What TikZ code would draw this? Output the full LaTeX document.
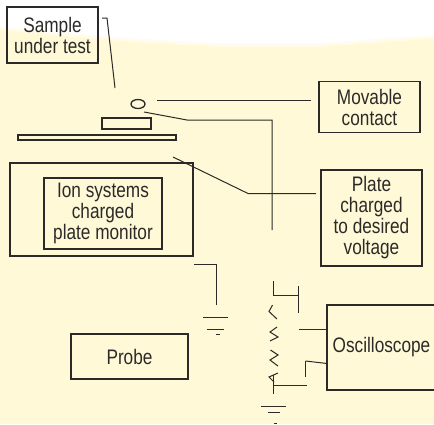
\documentclass[tikz,border=0pt]{standalone}
\usepackage{fontspec}
\setmainfont[FakeStretch=0.82]{Liberation Sans}
\definecolor{paleYellow}{HTML}{FFF9D8}
\definecolor{inkGray}{HTML}{2B2A28}
\begin{document}
\begin{tikzpicture}[
        x=1pt,
        y=-1pt,
        every node/.style={
            text=inkGray
        },
        labelBox/.style={
            rectangle,
            draw=inkGray,
            line width=1.4pt,
            inner sep=0pt,
            align=center,
            font=\fontsize{21}{21}\selectfont
        },
        wire/.style={
            draw=inkGray,
            line width=1pt
        },
        part/.style={
            draw=inkGray,
            line width=1.3pt
        }
    ]

        \useasboundingbox (0,0) rectangle (434,424);
        \clip (0,0) rectangle (434,424);

        \foreach \d/\o in {4/0.3,2/0.5,0/1} {
            \fill[paleYellow, opacity=\o, yshift=\d pt] (0,30) -- (60,36) -- (130,42) -- (217,47) -- (320,47) -- (400,41) -- (434,39) -- (434,424) -- (0,424) -- cycle;
        }

        \node[labelBox, minimum width=91pt, minimum height=56pt] (sample) at (52.5,35) {Sample\\under test};
        \node[labelBox, minimum width=101pt, minimum height=51pt] (movable) at (369.5,107) {Movable\\contact};
        \node[labelBox, minimum width=101pt, minimum height=96pt] (plate) at (371.5,218) {Plate\\charged\\to desired\\voltage};
        \node[labelBox, minimum width=183pt, minimum height=93pt] (monitorOuter) at (101.5,209.5) {};
        \node[labelBox, minimum width=118pt, minimum height=71pt] (monitor) at (103,213.5) {Ion systems\\charged\\plate monitor};
        \node[labelBox, minimum width=117pt, minimum height=45pt] (probe) at (129.5,356.5) {Probe};
        \node[labelBox, minimum width=109pt, minimum height=85pt] (scope) at (381.5,347.5) {Oscilloscope};

        % sample, plate and contact
        \node[part, rectangle, minimum width=49pt, minimum height=11pt, inner sep=0pt] (dut) at (126.5,123.5) {};
        \node[part, rectangle, minimum width=158pt, minimum height=5pt, inner sep=0pt] (platebar) at (97,137.5) {};
        \draw[part] (138,104) ellipse (7 and 4.5);

        % leader lines
        \coordinate (sampleA) at (102,18);
        \coordinate (sampleB) at (107,18);
        \coordinate (sampleC) at (115,88);
        \coordinate (contactA) at (157,100);
        \coordinate (contactB) at (311,100);
        \coordinate (wireA) at (144,112);
        \coordinate (wireB) at (187,120);
        \coordinate (wireC) at (272,120);
        \coordinate (wireD) at (272,230);
        \coordinate (plateA) at (173,157);
        \coordinate (plateB) at (248,193.5);
        \coordinate (plateC) at (316,193.5);
        \draw[wire] (sampleA) -- (sampleB) -- (sampleC);
        \draw[wire] (contactA) -- (contactB);
        \draw[wire] (wireA) -- (wireB) -- (wireC) -- (wireD);
        \draw[wire] (plateA) -- (plateB) -- (plateC);

        % monitor ground
        \coordinate (groundA) at (194,264);
        \coordinate (groundB) at (216,264);
        \coordinate (groundC) at (216,305);
        \draw[wire] (groundA) -- (groundB) -- (groundC);
        \draw[wire] (203,317) -- (228,317);
        \draw[wire] (207,329) -- (224,329);
        \draw[wire] (216,334) -- (220,334);

        % broken resistor
        \coordinate (topA) at (273,281);
        \coordinate (topB) at (273,295.5);
        \coordinate (topC) at (298,295.5);
        \draw[wire] (topA) -- (topB) -- (topC);
        \draw[wire] (298,286) -- (298,313);
        \draw[wire] (272.5,305) -- (269,311.5) -- (277,319);
        \draw[wire] (277,327) -- (270,332) -- (278,337) -- (270,341);
        \draw[wire] (270.5,350) -- (278,355) -- (270,360) -- (278,366);
        \draw[wire] (278,373) -- (269,377) -- (274,382);
        \coordinate (lowA) at (273,375);
        \coordinate (lowB) at (273,394);
        \coordinate (lowC) at (273,385);
        \coordinate (lowD) at (306.5,385);
        \draw[wire] (lowA) -- (lowB);
        \draw[wire] (lowC) -- (lowD);
        \draw[wire] (305.5,361) -- (305.5,377);

        % scope leads
        \coordinate (leadA) at (298.5,329);
        \coordinate (leadB) at (305.5,361);
        \draw[wire] (leadA) -- (scope.west |- leadA);
        \draw[wire] (leadB) -- (327,363.5);

        % lower ground
        \draw[wire] (261,406) -- (286,406);
        \draw[wire] (268,412) -- (280,412);
        \draw[wire] (274,423) -- (277,423);

    \end{tikzpicture}
\end{document}
